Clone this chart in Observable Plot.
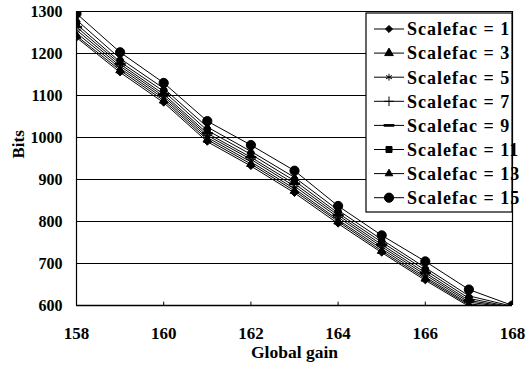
<!DOCTYPE html>
<html>
<head>
<meta charset="utf-8">
<script src="https://cdn.jsdelivr.net/npm/d3@7"></script>
<script src="https://cdn.jsdelivr.net/npm/@observablehq/plot@0.6"></script>
<style>
  html, body { margin: 0; padding: 0; background: white; }
  svg { display: block; }
  svg, svg text { font-family: "Liberation Serif", "Times New Roman", serif !important; font-weight: bold; }
</style>
</head>
<body>
<div id="chart"></div>
<script>
const gains = [158, 159, 160, 161, 162, 163, 164, 165, 166, 167, 168];
const scalefacs = [1, 3, 5, 7, 9, 11, 13, 15];
const bits1  = [1238, 1155, 1083, 990, 932, 868, 795, 726, 660, 598, 588];
const bits3  = [1242, 1160, 1088, 995, 937, 873, 800, 730, 664, 601, 590];
const bits5  = [1249, 1165, 1093, 1000, 942, 878, 804, 735, 668, 604, 592];
const bits7  = [1256, 1170, 1098, 1005, 948, 884, 810, 740, 673, 608, 594];
const bits9  = [1263, 1175, 1103, 1010, 953, 890, 815, 745, 678, 612, 595];
const bits11 = [1270, 1180, 1110, 1017, 960, 897, 820, 751, 684, 617, 596];
const bits13 = [1280, 1188, 1117, 1025, 967, 905, 827, 757, 690, 623, 598];
const bits15 = [1295, 1203, 1130, 1039, 982, 921, 837, 767, 705, 638, 600];
const series = [bits1, bits3, bits5, bits7, bits9, bits11, bits13, bits15];
const xTicks = [158, 160, 162, 164, 166, 168];
const yTicks = [600, 700, 800, 900, 1000, 1100, 1200, 1300];

const dash = { draw(ctx, size) { const w = Math.sqrt(size) * 0.9; ctx.moveTo(-w, -0.8); ctx.lineTo(w, -0.8); ctx.lineTo(w, 0.8); ctx.lineTo(-w, 0.8); ctx.closePath(); } };
const symbols = [d3.symbolDiamond2, d3.symbolTriangle, d3.symbolAsterisk, d3.symbolPlus, dash, d3.symbolSquare, d3.symbolTriangle, d3.symbolCircle];
const sizes = [3.2, 3.2, 3.2, 3.2, 3.2, 3.4, 2.8, 4.6];

const rows = [];
series.forEach((vals, i) => vals.forEach((v, j) => rows.push({ gain: gains[j], bits: v, sf: scalefacs[i], r: sizes[i] })));

const font = "Liberation Serif";

const chart = Plot.plot({
  width: 526, height: 372,
  marginLeft: 76, marginRight: 14, marginTop: 11, marginBottom: 67,
  style: { fontSize: "16px", background: "white", color: "black" },
  x: { domain: [158, 168], label: null },
  y: { domain: [600, 1300], label: null },
  symbol: { domain: scalefacs, range: symbols },
  r: { type: "identity" },
  marks: [
    Plot.ruleY(yTicks, { stroke: "black", strokeWidth: 1 }),
    Plot.ruleX([158, 168], { stroke: "black", strokeWidth: 1.2 }),
    Plot.ruleY([600], { stroke: "black", strokeWidth: 1.5 }),
    Plot.ruleX([160, 162, 164, 166], { y1: 600, y2: 608, stroke: "black" }),
    Plot.line(rows, { x: "gain", y: "bits", z: "sf", stroke: "black", strokeWidth: 1, clip: true }),
    Plot.dot(rows, { x: "gain", y: "bits", symbol: "sf", r: "r", fill: "black", stroke: "black", strokeWidth: 1, clip: true }),
    Plot.axisX(xTicks, { tickSize: 0, tickPadding: 21, fontSize: 17, fontWeight: "bold", label: null, tickFormat: d => String(d) }),
    Plot.axisY(yTicks, { tickSize: 0, tickPadding: 14, fontSize: 16, fontWeight: "bold", label: null, tickFormat: d => String(d) }),
    Plot.text(["Global gain"], { frameAnchor: "bottom", dy: 52, fontSize: 17.5, fontWeight: "bold" }),
    Plot.text(["Bits"], { frameAnchor: "left", dx: -58, rotate: -90, fontSize: 17, fontWeight: "bold" })
  ]
});

document.getElementById("chart").appendChild(chart);

// Legend
const svg = d3.select(chart);
const lg = svg.append("g").attr("font-family", font).attr("font-weight", "bold").attr("font-size", 18).attr("text-anchor", "start");
const lx = 366, ly = 13, lw = 146, lh = 199;
lg.append("rect").attr("x", lx).attr("y", ly).attr("width", lw).attr("height", lh)
  .attr("fill", "white").attr("stroke", "black").attr("stroke-width", 1.2);
scalefacs.forEach((s, i) => {
  const cy = ly + 16 + i * 24.1;
  lg.append("line").attr("x1", lx + 8).attr("x2", lx + 38).attr("y1", cy).attr("y2", cy)
    .attr("stroke", "black").attr("stroke-width", 1);
  const area = Math.PI * sizes[i] * sizes[i];
  lg.append("path").attr("transform", `translate(${lx + 23},${cy})`)
    .attr("d", d3.symbol(symbols[i], area)())
    .attr("fill", "black").attr("stroke", "black").attr("stroke-width", 1);
  lg.append("text").attr("x", lx + 41).attr("y", cy).attr("dy", "0.35em")
    .attr("text-anchor", "start").attr("letter-spacing", "1px").text(`Scalefac = ${s}`);
});
</script>
</body>
</html>
